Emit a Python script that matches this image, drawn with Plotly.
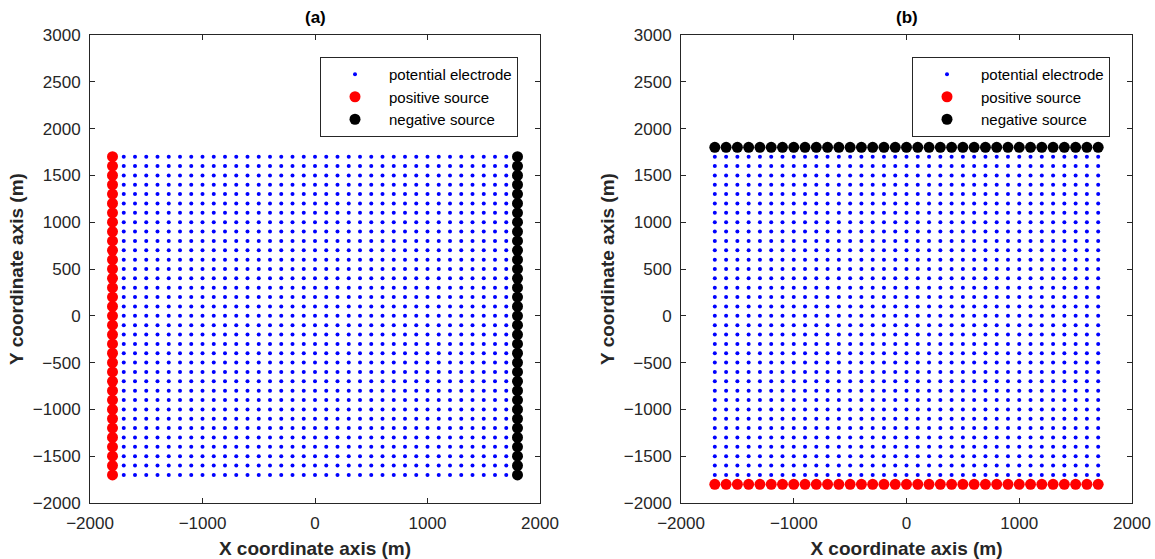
import numpy as np
import plotly.graph_objects as go

# Data
grid_coords = list(range(-1700, 1701, 100))      # electrode grid (m)
source_line = list(range(-1700, 1701, 100))      # source positions along the line (m)
src_offset_a = [-1800, 1800]                     # (a) x of positive / negative source lines
src_offset_b = [-1800, 1800]                     # (b) y of positive / negative source lines
x_ticks = [-2000, -1000, 0, 1000, 2000]
y_ticks = [-2000, -1500, -1000, -500, 0, 500, 1000, 1500, 2000, 2500, 3000]

gx, gy = np.meshgrid(grid_coords, grid_coords)
gx = gx.ravel(); gy = gy.ravel()

W, H = 1155, 559
ML, MR, MT, MB = 90, 23, 35, 56
PW = W - ML - MR
PH = H - MT - MB

fig = go.Figure()

FONT = "Liberation Sans, Arial, sans-serif"
blue = dict(color="#0000ff", size=4)
red = dict(color="#ff0000", size=11)
black = dict(color="#000000", size=11)

# panel (a)
fig.add_trace(go.Scatter(x=gx, y=gy, mode="markers", marker=blue, name="potential electrode",
                         xaxis="x", yaxis="y", legend="legend"))
fig.add_trace(go.Scatter(x=[src_offset_a[0]] * len(source_line), y=source_line, mode="markers",
                         marker=red, name="positive source", xaxis="x", yaxis="y", legend="legend"))
fig.add_trace(go.Scatter(x=[src_offset_a[1]] * len(source_line), y=source_line, mode="markers",
                         marker=black, name="negative source", xaxis="x", yaxis="y", legend="legend"))
# panel (b)
fig.add_trace(go.Scatter(x=gx, y=gy, mode="markers", marker=blue, name="potential electrode",
                         xaxis="x2", yaxis="y2", legend="legend2"))
fig.add_trace(go.Scatter(x=source_line, y=[src_offset_b[0]] * len(source_line), mode="markers",
                         marker=red, name="positive source", xaxis="x2", yaxis="y2", legend="legend2"))
fig.add_trace(go.Scatter(x=source_line, y=[src_offset_b[1]] * len(source_line), mode="markers",
                         marker=black, name="negative source", xaxis="x2", yaxis="y2", legend="legend2"))

def px_x(p):
    return (p - ML) / PW

def px_y(p):
    return 1 - (p - MT) / PH

yd = [0, 1]
xda = [0, px_x(540)]
xdb = [px_x(681), 1]

def xax(domain, anchor):
    return dict(domain=domain, anchor=anchor, range=[-2000, 2000], tickvals=x_ticks,
                ticks="inside", ticklen=5, tickcolor="#262626", showline=True, linecolor="#262626",
                linewidth=1, mirror="allticks", showgrid=False, zeroline=False, automargin=False,
                ticklabelstandoff=5,
                tickfont=dict(family=FONT, size=17, color="#262626"),
                title=dict(text="<b>X coordinate axis (m)</b>", font=dict(family=FONT, size=19, color="#262626"),
                           standoff=10))

def yax(domain, anchor):
    return dict(domain=domain, anchor=anchor, range=[-2000, 3000], tickvals=y_ticks,
                ticks="inside", ticklen=5, tickcolor="#262626", showline=True, linecolor="#262626",
                linewidth=1, mirror="allticks", showgrid=False, zeroline=False, automargin=False,
                ticklabelstandoff=5,
                tickfont=dict(family=FONT, size=17, color="#262626"),
                title=dict(text="<b>Y coordinate axis (m)</b>", font=dict(family=FONT, size=19, color="#262626"),
                           standoff=4))

def leg(x_right):
    return dict(x=px_x(x_right), y=px_y(57), xanchor="right", yanchor="top",
                bordercolor="#262626", borderwidth=1, bgcolor="white",
                font=dict(family=FONT, size=15, color="#000000"), itemsizing="trace",
                tracegroupgap=0, itemwidth=58)

fig.update_layout(
    width=W, height=H, margin=dict(l=ML, r=MR, t=MT, b=MB, autoexpand=False),
    paper_bgcolor="white", plot_bgcolor="white",
    xaxis=xax(xda, "y"), yaxis=yax(yd, "x"),
    xaxis2=xax(xdb, "y2"), yaxis2=yax(yd, "x2"),
    legend=leg(518), legend2=leg(1110),
    annotations=[
        dict(text="<b>(a)</b>", x=px_x((90 + 540) / 2), y=px_y(18), xref="paper", yref="paper",
             xanchor="center", yanchor="middle",
             showarrow=False, font=dict(family=FONT, size=17, color="#000000")),
        dict(text="<b>(b)</b>", x=px_x((681 + 1132) / 2), y=px_y(18), xref="paper", yref="paper",
             xanchor="center", yanchor="middle",
             showarrow=False, font=dict(family=FONT, size=17, color="#000000")),
    ],
)

fig.write_html("out.html")
